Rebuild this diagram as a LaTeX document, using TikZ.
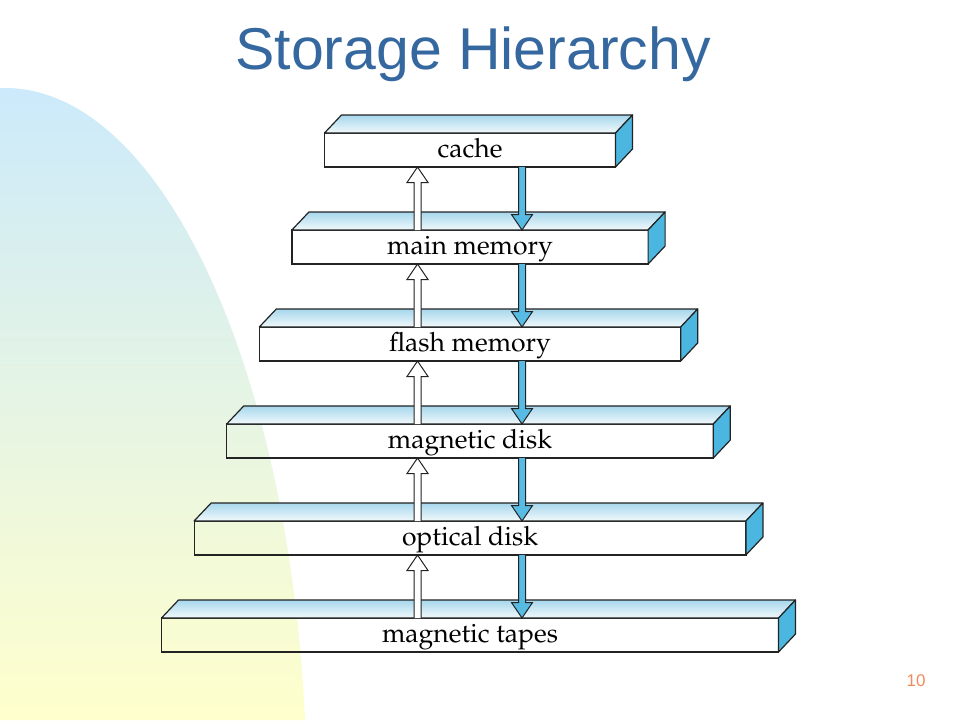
\documentclass[tikz,border=0pt]{standalone}
\usepackage[T1]{fontenc}
\usepackage{fontspec}
\setmainfont{Liberation Sans}
\usetikzlibrary{calc}
\definecolor{titleblue}{RGB}{54,104,160}
\definecolor{bgblue}{RGB}{204,234,251}
\definecolor{bgyellow}{RGB}{255,255,204}
\definecolor{edgecol}{RGB}{35,35,35}
\definecolor{sideblue}{RGB}{75,183,224}
\definecolor{arrowblue}{RGB}{88,187,227}
\definecolor{topback}{RGB}{166,215,236}
\definecolor{topfront}{RGB}{242,249,252}
\definecolor{numorange}{RGB}{240,140,90}
\newcommand\boxfont{\fontencoding{T1}\fontfamily{ppl}\fontsize{26.5}{30}\selectfont}
\newcommand\fatarr[3]{%
  \path #2 coordinate (fa-b) #3 coordinate (fa-t);
  \path ($(fa-t)!15.5pt!(fa-b)$) coordinate (fa-h);
  \filldraw[fill=#1, draw=edgecol, line width=1pt, line join=miter]
    ($(fa-b)+(-3.5,0)$) -- ($(fa-h)+(-3.5,0)$) -- ($(fa-h)+(-10.5,0)$) -- (fa-t)
    -- ($(fa-h)+(10.5,0)$) -- ($(fa-h)+(3.5,0)$) -- ($(fa-b)+(3.5,0)$);
}
\tikzset{
  level/.style={rectangle, draw=edgecol, line width=1.2pt, inner sep=0pt, outer sep=0pt,
    minimum height=34pt, text height=20pt, text depth=6pt, font=\boxfont, text=black},
  topface/.style={top color=topback, bottom color=topfront, draw=edgecol, line width=1.2pt, line join=round},
  sideface/.style={fill=sideblue, draw=edgecol, line width=1.2pt, line join=round},
}
\begin{document}
\begin{tikzpicture}[x=1pt, y=-1pt]
\useasboundingbox (0,0) rectangle (960,720);
\fill[white] (0,0) rectangle (960,720);
% background
\shade[top color=bgblue, bottom color=bgyellow]
  (0,720) -- (0,88) -- (5,88) arc[start angle=-90, end angle=-6.45, x radius=302, y radius=712] -- cycle;
% title
\node[anchor=base, text=titleblue, font=\fontsize{59}{64}\selectfont, inner sep=0pt] (title) at (473,69) {Storage Hierarchy};
% levels
\foreach \i/\txt in {0/cache,1/main memory,2/flash memory,3/magnetic disk,4/optical disk,5/magnetic tapes} {
  \node[level, minimum width={291pt+65.2pt*\i}] (L\i) at (470,{150+97*\i}) {\txt};
  \shadedraw[topface] (L\i.north west) -- ++(17,-18) -- ($(L\i.north east)+(17,-18)$) -- (L\i.north east) -- cycle;
  \filldraw[sideface] (L\i.north east) -- ++(17,-18) -- ++(0,34) -- (L\i.south east) -- cycle;
}
\coordinate (ux) at (417.5,0);
\coordinate (dx) at (522,0);
\foreach \i/\j in {1/0,2/1,3/2,4/3,5/4} {
  \fatarr{white}{(ux |- L\i.north)}{(ux |- L\j.south)}
  \fatarr{arrowblue}{(dx |- L\j.south)}{(dx |- L\i.north)}
}
\node[text=numorange, font=\fontsize{17}{20}\selectfont, inner sep=0pt] (pagenum) at (916,681) {10};
\end{tikzpicture}
\end{document}
